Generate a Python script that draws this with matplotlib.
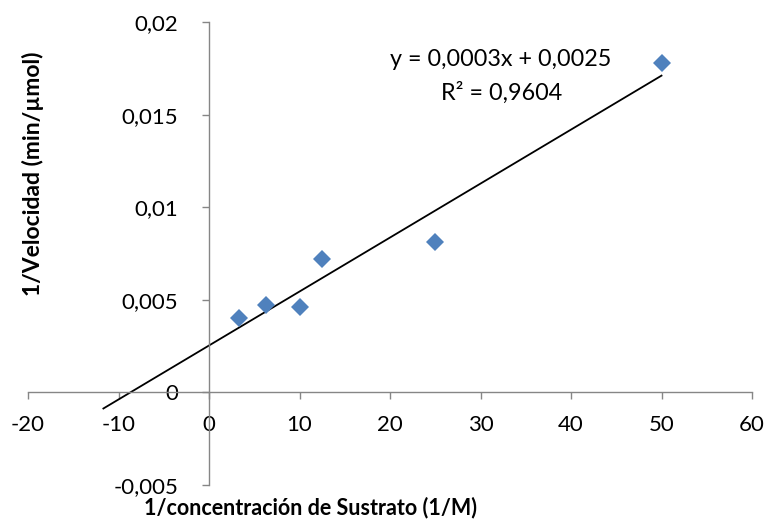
"""
Lineweaver-Burk plot: 1/velocity against 1/substrate concentration
"""
import numpy as np
import matplotlib
matplotlib.use('Agg')
import matplotlib.pyplot as plt

inv_substrate = [3.33, 6.25, 10.0, 12.5, 25.0, 50.0]
inv_velocity = [0.0040, 0.0047, 0.0046, 0.0072, 0.0081, 0.0178]

x_ticks = [-20, -10, 0, 10, 20, 30, 40, 50, 60]
y_ticks = [-0.005, 0, 0.005, 0.01, 0.015, 0.02]
y_tick_labels = ['-0,005', '0', '0,005', '0,01', '0,015', '0,02']

equation_text = 'y = 0,0003x + 0,0025'
r2_text = 'R² = 0,9604'
backward_forecast = 15

plt.rcParams['font.family'] = ['Lato', 'DejaVu Sans']
plt.rcParams['axes.unicode_minus'] = False


def main():
    fig = plt.figure(figsize=(7.7, 5.24), dpi=100)
    ax = fig.add_axes([28 / 770, 1 - 485 / 524, 724 / 770, 463 / 524])

    # least squares trendline, extended backwards like the spreadsheet one
    slope, intercept = np.polyfit(inv_substrate, inv_velocity, 1)
    x_line = np.array([min(inv_substrate) - backward_forecast, max(inv_substrate)])
    ax.plot(x_line, slope * x_line + intercept, color='black', lw=1.3, zorder=2)

    ax.plot(inv_substrate, inv_velocity, 'D', color='#4F81BD', markersize=9.5,
            markeredgewidth=0, zorder=3)

    ax.set_xlim(-20, 60)
    ax.set_ylim(-0.005, 0.02)
    ax.set_xticks(x_ticks)
    ax.set_yticks(y_ticks)
    ax.set_yticklabels(y_tick_labels)

    for side in ('top', 'right'):
        ax.spines[side].set_visible(False)
    ax.spines['left'].set_position(('data', 0))
    ax.spines['bottom'].set_position(('data', 0))
    for side in ('left', 'bottom'):
        ax.spines[side].set_color('#868686')
        ax.spines[side].set_linewidth(1.0)
    ax.tick_params(axis='both', direction='out', length=5, width=1.0,
                   color='#868686', labelsize=16, labelcolor='black')
    ax.tick_params(axis='y', pad=17)
    ax.tick_params(axis='x', pad=11)
    ax.patch.set_alpha(0)

    ax.text(501 / 770, 1 - 60 / 524, equation_text, transform=fig.transFigure,
            fontsize=16.8, ha='center', va='center')
    ax.text(502 / 770, 1 - 93 / 524, r2_text, transform=fig.transFigure,
            fontsize=16.8, ha='center', va='center')

    fig.text(311 / 770, 1 - 508 / 524, '1/concentración de Sustrato (1/M)',
             fontsize=15.5, fontweight='bold', ha='center', va='center')
    fig.text(33 / 770, 1 - 174 / 524, '1/Velocidad (min/µmol)',
             fontsize=16.5, fontweight='bold', ha='center', va='center',
             rotation=90)

    fig.savefig('out.png', dpi=100)
    plt.close(fig)


if __name__ == "__main__":
    main()
